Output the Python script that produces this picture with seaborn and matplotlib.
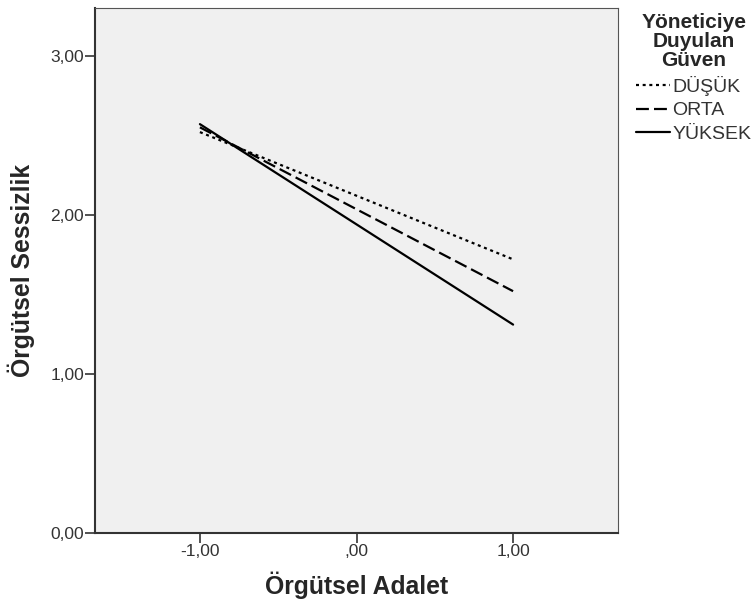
import matplotlib
matplotlib.use("Agg")
import matplotlib.pyplot as plt
import seaborn as sns
import pandas as pd
from matplotlib.ticker import FuncFormatter

x_vals = [-1.0, 1.0]
dusuk = [2.52, 1.72]
orta = [2.55, 1.52]
yuksek = [2.57, 1.31]
groups = ["DÜŞÜK", "ORTA", "YÜKSEK"]

rows = []
for g, vals in zip(groups, [dusuk, orta, yuksek]):
    for xv, yv in zip(x_vals, vals):
        rows.append({"Örgütsel Adalet": xv, "Örgütsel Sessizlik": yv, "Güven": g})
df = pd.DataFrame(rows)

sns.set_style("white")
plt.rcParams['font.family'] = ['Liberation Sans', 'DejaVu Sans']

fig = plt.figure(figsize=(7.51, 6.04), dpi=100)
ax = fig.add_axes([95/751, 1 - 533/604, (618-95)/751, (533-8)/604])
ax.set_facecolor("#f0f0f0")

sns.lineplot(data=df, x="Örgütsel Adalet", y="Örgütsel Sessizlik", style="Güven",
             style_order=groups,
             dashes={"DÜŞÜK": (1.35, 1.65), "ORTA": (5.8, 2.3), "YÜKSEK": ""},
             color="black", linewidth=1.6, ax=ax, legend=True)

ax.set_xlim(-1.67, 1.67)
ax.set_ylim(0, 3.3)
ax.set_xticks([-1, 0, 1])
ax.set_yticks([0, 1, 2, 3])

ax.yaxis.set_major_formatter(FuncFormatter(lambda v, p: f"{v:.2f}".replace(".", ",")))
ax.xaxis.set_major_formatter(FuncFormatter(lambda v, p: (",00" if abs(v) < 1e-9 else f"{v:.2f}".replace(".", ","))))

ax.tick_params(axis="both", direction="out", length=7, width=1.2, color="#333333",
               labelsize=12.5, labelcolor="#333333", left=True, bottom=True, pad=1)
for side in ["left", "bottom"]:
    ax.spines[side].set_color("#333333")
    ax.spines[side].set_linewidth(1.5)
for side in ["top", "right"]:
    ax.spines[side].set_color("#555555")
    ax.spines[side].set_linewidth(0.8)

ax.set_xlabel("Örgütsel Adalet", fontsize=17.8, fontweight="bold", labelpad=9)
ax.set_ylabel("Örgütsel Sessizlik", fontsize=17.8, fontweight="bold", labelpad=11)

leg = ax.legend(title="Yöneticiye\nDuyulan\nGüven", loc="upper left",
                bbox_to_anchor=(1.007, 1.018), frameon=False, fontsize=14,
                title_fontproperties={"weight": "bold", "size": 15},
                handlelength=1.75, handletextpad=0.1, labelspacing=0.3,
                borderaxespad=0.0, borderpad=0.75)
leg._legend_box.align = "center"
leg.get_title().set_multialignment("center")
leg.get_title().set_linespacing(1.0)
for t in leg.get_texts():
    t.set_color("#333333")
for h in leg.get_lines():
    h.set_linewidth(1.6)

fig.savefig("out.png", dpi=100)
